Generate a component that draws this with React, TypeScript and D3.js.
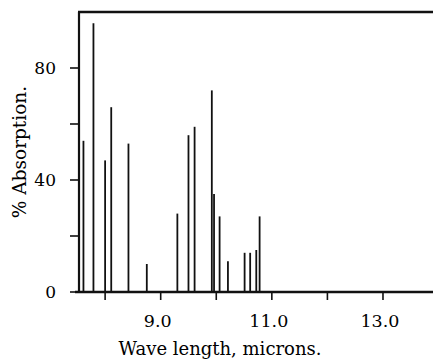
import React, { useRef, useEffect } from "react";
import * as d3 from "d3";

// absorption lines
const wavelengths = [7.61, 7.79, 8.0, 8.11, 8.42, 8.75, 9.3, 9.5, 9.61, 9.92, 9.96, 10.06, 10.21, 10.51, 10.61, 10.72, 10.78];
const absorption = [54, 96, 47, 66, 53, 10, 28, 56, 59, 72, 35, 27, 11, 14, 14, 15, 27];

const xTicks = [8, 9, 10, 11, 12, 13];
const xLabelled = [9, 11, 13];
const yTicks = [0, 20, 40, 60, 80];
const yLabelled = [0, 40, 80];

const App = () => {
  const svgRef = useRef<SVGSVGElement>(null);

  useEffect(() => {
    const svg = d3.select(svgRef.current);
    svg.selectAll("*").remove();

    const width = 433;
    const height = 359;
    const left = 79;
    const right = 433;
    const top = 12;
    const bottom = 292;
    const font = "'DejaVu Serif', serif";

    const x = d3.scaleLinear().domain([7.53, 13.9]).range([left, right]);
    const y = d3.scaleLinear().domain([0, 100]).range([bottom, top]);

    svg.attr("width", width).attr("height", height);

    // lines
    svg.append("g")
      .selectAll("line")
      .data(wavelengths.map((w, i) => ({ w, a: absorption[i] })))
      .enter()
      .append("line")
      .attr("x1", d => x(d.w))
      .attr("x2", d => x(d.w))
      .attr("y1", y(0))
      .attr("y2", d => y(d.a))
      .attr("stroke", "#111")
      .attr("stroke-width", 1.8);

    // frame
    svg.append("line")
      .attr("x1", left - 1).attr("x2", right).attr("y1", top).attr("y2", top)
      .attr("stroke", "#111").attr("stroke-width", 2.6);
    svg.append("line")
      .attr("x1", left).attr("x2", left).attr("y1", top).attr("y2", bottom)
      .attr("stroke", "#111").attr("stroke-width", 2.2);
    svg.append("line")
      .attr("x1", left - 4).attr("x2", right).attr("y1", bottom).attr("y2", bottom)
      .attr("stroke", "#111").attr("stroke-width", 2.4);

    // y ticks
    const yg = svg.append("g");
    yg.selectAll("line")
      .data(yTicks)
      .enter()
      .append("line")
      .attr("x1", left - 9).attr("x2", left)
      .attr("y1", d => y(d)).attr("y2", d => y(d))
      .attr("stroke", "#111").attr("stroke-width", 1.6);
    yg.selectAll("text")
      .data(yLabelled)
      .enter()
      .append("text")
      .attr("x", left - 23)
      .attr("y", d => y(d))
      .attr("dy", "0.36em")
      .attr("text-anchor", "end")
      .style("font-family", font)
      .style("font-size", "17px")
      .text(d => d);

    // x ticks
    const xg = svg.append("g");
    xg.selectAll("line")
      .data(xTicks)
      .enter()
      .append("line")
      .attr("x1", d => x(d)).attr("x2", d => x(d))
      .attr("y1", bottom).attr("y2", bottom + 8)
      .attr("stroke", "#111").attr("stroke-width", 1.6);
    xg.selectAll("text")
      .data(xLabelled)
      .enter()
      .append("text")
      .attr("x", d => x(d) - 3)
      .attr("y", bottom + 35)
      .attr("text-anchor", "middle")
      .style("font-family", font)
      .style("font-size", "17.5px")
      .text(d => d.toFixed(1));

    // axis titles
    svg.append("text")
      .attr("x", 220)
      .attr("y", 355)
      .attr("text-anchor", "middle")
      .style("font-family", font)
      .style("font-size", "18px")
      .text("Wave length, microns.");

    svg.append("text")
      .attr("transform", "translate(26,152) rotate(-90)")
      .attr("text-anchor", "middle")
      .style("font-family", font)
      .style("font-size", "18.5px")
      .text("% Absorption.");
  }, []);

  return <svg ref={svgRef} style={{ position: "absolute", left: 0, top: 0, background: "#fff" }}></svg>;
};

export default App;
